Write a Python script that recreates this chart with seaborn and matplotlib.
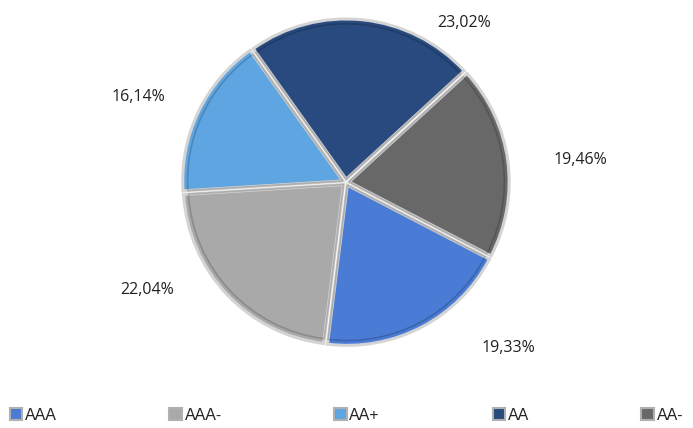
import seaborn as sns
import numpy as np
from matplotlib import pyplot as plt
from matplotlib.patches import Patch

categorias = ["AAA", "AAA-", "AA+", "AA", "AA-"]
porcentajes = [19.33, 22.04, 16.14, 23.02, 19.46]
colores = ["#4a7bd5", "#a9a9a9", "#5ea5e1", "#284a7e", "#686868"]

# posicion de las etiquetas (angulo en grados, radio relativo)
pos_etiquetas = [(-45.5, 1.45), (-151.5, 1.41), (157.5, 1.40), (53.5, 1.24), (5.5, 1.47)]

sns.set_theme(style="white")
plt.rcParams["font.family"] = ["Open Sans", "DejaVu Sans"]

fig = plt.figure(figsize=(6.93, 4.28), dpi=100)
w, h = 0.486, 0.786
ax = fig.add_axes([0.499 - w / 2, 0.574 - h / 2, w, h])

ax.pie(
    porcentajes,
    colors=colores,
    startangle=-27.5,
    counterclock=False,
    explode=[0.02] * len(porcentajes),
    wedgeprops=dict(edgecolor="#d4d4d4", linewidth=2.2),
)
# borde interior mas oscuro para el efecto biselado
ax.pie(
    porcentajes,
    colors=["none"] * len(porcentajes),
    startangle=-27.5,
    counterclock=False,
    explode=[0.02] * len(porcentajes),
    radius=0.97,
    wedgeprops=dict(edgecolor=(0, 0, 0, 0.18), linewidth=1.2),
)
ax.set_xlim(-1.05, 1.05)
ax.set_ylim(-1.05, 1.05)
ax.set_aspect("equal")

for p, (ang, r) in zip(porcentajes, pos_etiquetas):
    t = np.deg2rad(ang)
    ax.text(r * np.cos(t), r * np.sin(t), f"{p:.2f}%".replace(".", ","),
            ha="center", va="center", fontsize=11.5, color="#222222",
            clip_on=False)

handles = [Patch(facecolor=c, edgecolor="#b0b0b0", linewidth=1.5) for c in colores]
fig.legend(handles, categorias, loc="lower left",
           bbox_to_anchor=(0.014, 0.012, 0.972, 0.065), ncol=5, mode="expand",
           frameon=False, handlelength=0.8, handleheight=0.8,
           handletextpad=0.15, borderaxespad=0.0, borderpad=0.0,
           prop={"family": ["Liberation Sans Narrow", "Liberation Sans"], "size": 11.5})

fig.savefig("out.png", dpi=100)
